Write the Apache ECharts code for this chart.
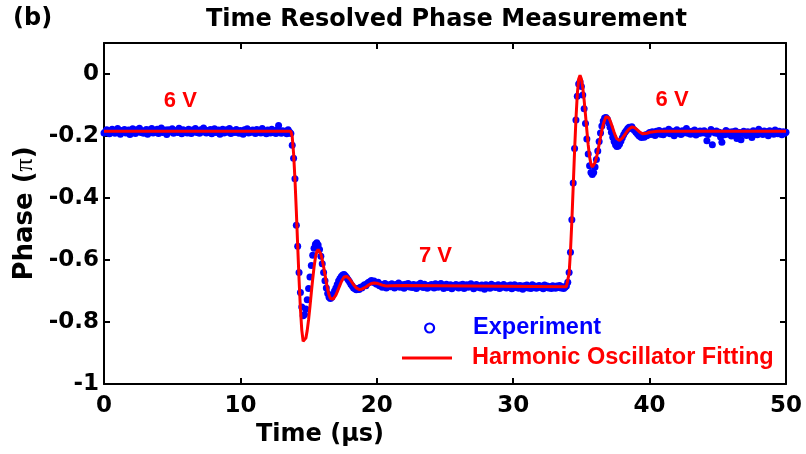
<!DOCTYPE html>
<html><head><meta charset="utf-8">
<script src="https://cdn.jsdelivr.net/npm/echarts@6/dist/echarts.min.js"></script>
<style>html,body{margin:0;padding:0;background:#fff}#c{width:806px;height:454px}</style>
</head><body><div id="c"></div>
<script>
// ---- data ----
const expTimeStep = 0.1; // sampling interval of the measurement (μs), first sample at t = 0
const expPhase = [
-0.190,-0.186,-0.180,-0.188,-0.193,-0.184,-0.178,-0.187,-0.191,-0.183,
-0.176,-0.189,-0.194,-0.182,-0.185,-0.179,-0.190,-0.187,-0.181,-0.195,
-0.184,-0.177,-0.188,-0.192,-0.180,-0.186,-0.175,-0.189,-0.183,-0.191,
-0.185,-0.179,-0.194,-0.181,-0.187,-0.176,-0.190,-0.184,-0.188,-0.178,
-0.192,-0.183,-0.174,-0.189,-0.186,-0.181,-0.195,-0.180,-0.187,-0.184,
-0.177,-0.191,-0.185,-0.182,-0.189,-0.175,-0.188,-0.193,-0.180,-0.186,
-0.183,-0.190,-0.178,-0.187,-0.192,-0.181,-0.186,-0.176,-0.189,-0.184,
-0.191,-0.180,-0.187,-0.174,-0.185,-0.190,-0.182,-0.188,-0.179,-0.193,
-0.184,-0.177,-0.189,-0.186,-0.181,-0.194,-0.183,-0.178,-0.190,-0.185,
-0.180,-0.188,-0.176,-0.192,-0.185,-0.183,-0.189,-0.179,-0.186,-0.191,
-0.182,-0.187,-0.194,-0.180,-0.185,-0.177,-0.190,-0.184,-0.188,-0.181,
-0.186,-0.192,-0.179,-0.187,-0.183,-0.190,-0.176,-0.188,-0.185,-0.193,
-0.181,-0.186,-0.190,-0.178,-0.189,-0.184,-0.192,-0.180,-0.166,-0.187,
-0.191,-0.183,-0.188,-0.185,-0.193,-0.180,-0.187,-0.192,-0.230,-0.272,
-0.338,-0.488,-0.556,-0.640,-0.705,-0.752,-0.780,-0.776,-0.758,-0.728,
-0.692,-0.655,-0.618,-0.585,-0.562,-0.549,-0.544,-0.552,-0.566,-0.588,
-0.612,-0.640,-0.667,-0.690,-0.708,-0.720,-0.724,-0.720,-0.712,-0.700,
-0.690,-0.679,-0.668,-0.660,-0.653,-0.648,-0.647,-0.652,-0.657,-0.664,
-0.670,-0.678,-0.684,-0.690,-0.693,-0.696,-0.692,-0.695,-0.688,-0.690,
-0.684,-0.680,-0.683,-0.676,-0.672,-0.670,-0.666,-0.672,-0.668,-0.675,
-0.678,-0.672,-0.683,-0.679,-0.688,-0.681,-0.676,-0.690,-0.684,-0.680,
-0.686,-0.677,-0.682,-0.690,-0.679,-0.685,-0.674,-0.688,-0.683,-0.680,
-0.691,-0.678,-0.684,-0.676,-0.687,-0.681,-0.689,-0.679,-0.685,-0.692,
-0.680,-0.686,-0.675,-0.683,-0.689,-0.678,-0.684,-0.691,-0.682,-0.687,
-0.679,-0.685,-0.690,-0.677,-0.683,-0.688,-0.681,-0.676,-0.686,-0.692,
-0.683,-0.678,-0.689,-0.685,-0.680,-0.693,-0.682,-0.687,-0.679,-0.684,
-0.690,-0.681,-0.686,-0.678,-0.692,-0.684,-0.680,-0.688,-0.683,-0.677,
-0.687,-0.693,-0.682,-0.679,-0.688,-0.684,-0.690,-0.681,-0.686,-0.694,
-0.680,-0.687,-0.683,-0.691,-0.678,-0.686,-0.682,-0.689,-0.685,-0.680,
-0.692,-0.684,-0.688,-0.679,-0.686,-0.690,-0.683,-0.687,-0.681,-0.693,
-0.685,-0.680,-0.689,-0.684,-0.691,-0.682,-0.687,-0.694,-0.683,-0.688,
-0.681,-0.690,-0.686,-0.692,-0.680,-0.688,-0.684,-0.691,-0.687,-0.682,
-0.689,-0.685,-0.693,-0.681,-0.688,-0.684,-0.690,-0.686,-0.692,-0.683,
-0.687,-0.691,-0.684,-0.689,-0.682,-0.690,-0.686,-0.692,-0.688,-0.684,
-0.672,-0.640,-0.575,-0.470,-0.352,-0.240,-0.148,-0.072,-0.032,-0.025,
-0.040,-0.068,-0.112,-0.160,-0.210,-0.258,-0.296,-0.318,-0.324,-0.318,
-0.300,-0.276,-0.248,-0.218,-0.190,-0.168,-0.152,-0.142,-0.140,-0.146,
-0.158,-0.172,-0.188,-0.204,-0.218,-0.228,-0.234,-0.232,-0.226,-0.216,
-0.206,-0.196,-0.188,-0.182,-0.176,-0.172,-0.175,-0.170,-0.178,-0.182,
-0.188,-0.193,-0.198,-0.202,-0.205,-0.200,-0.204,-0.196,-0.199,-0.193,
-0.189,-0.195,-0.186,-0.192,-0.198,-0.185,-0.190,-0.182,-0.194,-0.188,
-0.196,-0.184,-0.190,-0.187,-0.178,-0.193,-0.189,-0.185,-0.199,-0.186,
-0.180,-0.192,-0.188,-0.195,-0.183,-0.190,-0.186,-0.176,-0.191,-0.187,
-0.194,-0.185,-0.189,-0.181,-0.197,-0.188,-0.192,-0.184,-0.190,-0.186,
-0.183,-0.191,-0.215,-0.195,-0.188,-0.179,-0.228,-0.186,-0.190,-0.184,
-0.192,-0.188,-0.203,-0.220,-0.190,-0.196,-0.182,-0.189,-0.194,-0.187,
-0.200,-0.186,-0.191,-0.184,-0.208,-0.195,-0.189,-0.212,-0.192,-0.185,
-0.190,-0.198,-0.186,-0.193,-0.188,-0.205,-0.183,-0.194,-0.189,-0.196,
-0.178,-0.191,-0.187,-0.195,-0.184,-0.190,-0.186,-0.199,-0.183,-0.192,
-0.188,-0.194,-0.181,-0.189,-0.193,-0.185,-0.190,-0.196,-0.186,-0.191,
-0.188
];

const fitTime = [
0,
13.7,13.8,13.9,14.0,14.1,14.2,14.3,14.4,14.5,14.6,
14.7,14.8,14.9,15.0,15.1,15.2,15.3,15.4,15.5,15.6,
15.7,15.8,15.9,16.0,16.1,16.2,16.3,16.4,16.5,16.6,
16.7,16.8,16.9,17.0,17.1,17.2,17.3,17.4,17.5,17.6,
17.7,17.8,17.9,18.0,18.1,18.2,18.3,18.4,18.5,18.6,
18.7,18.8,18.9,19.0,
19.2,19.4,19.6,19.8,20.0,20.2,20.4,20.6,20.8,21.0,
22.0,33.9,
34.0,34.1,34.2,34.3,34.4,34.5,34.6,34.7,34.8,34.9,
35.0,35.1,35.2,35.3,35.4,35.5,35.6,35.7,35.8,35.9,
36.0,36.1,36.2,36.3,36.4,36.5,36.6,36.7,36.8,36.9,
37.0,37.1,37.2,37.3,37.4,37.5,37.6,37.7,37.8,37.9,
38.0,38.1,38.2,38.3,38.4,38.5,38.6,38.7,38.8,38.9,
39.0,39.1,39.2,39.3,39.4,39.5,39.6,
39.8,40.0,40.3,40.6,41.0,50
];
const fitPhase = [
-0.185,
-0.185,-0.203,-0.257,-0.340,-0.442,-0.554,-0.663,-0.757,-0.826,-0.862,
-0.865,-0.852,-0.827,-0.792,-0.750,-0.705,-0.662,-0.623,-0.592,-0.573,
-0.566,-0.570,-0.581,-0.599,-0.622,-0.647,-0.672,-0.695,-0.713,-0.724,
-0.728,-0.726,-0.721,-0.713,-0.703,-0.692,-0.681,-0.670,-0.662,-0.655,
-0.652,-0.653,-0.656,-0.661,-0.667,-0.673,-0.680,-0.686,-0.690,-0.694,
-0.695,-0.695,-0.694,-0.692,
-0.687,-0.681,-0.676,-0.674,-0.675,-0.678,-0.681,-0.683,-0.684,-0.683,
-0.682,-0.686,
-0.681,-0.643,-0.571,-0.475,-0.362,-0.248,-0.146,-0.065,-0.016,-0.004,
-0.016,-0.044,-0.084,-0.132,-0.182,-0.229,-0.267,-0.291,-0.300,-0.296,
-0.286,-0.270,-0.250,-0.227,-0.204,-0.182,-0.163,-0.149,-0.138,-0.136,
-0.141,-0.150,-0.162,-0.175,-0.188,-0.200,-0.209,-0.214,-0.214,-0.212,
-0.207,-0.201,-0.195,-0.188,-0.182,-0.177,-0.173,-0.171,-0.171,-0.173,
-0.176,-0.180,-0.184,-0.188,-0.191,-0.193,-0.193,
-0.191,-0.188,-0.186,-0.185,-0.185,-0.185
];

const annotTime  = [5.6, 24.3, 41.65];
const annotPhase = [-0.087, -0.587, -0.084];
const annotText  = ['6 V', '7 V', '6 V'];

const seriesNames = ['Experiment', 'Harmonic Oscillator Fitting'];
const titleText = 'Time Resolved Phase Measurement';
const panelText = '(b)';

// ---- chart ----
const expData = expPhase.map((v, i) => [+(i * expTimeStep).toFixed(1), v]);
const fitData = fitTime.map((t, i) => [t, fitPhase[i]]);
const annotData = annotTime.map((t, i) => [t, annotPhase[i]]);

const F = 'DejaVu Sans';
const L = 'Liberation Sans';
const axisLine = {show: true, onZero: false, lineStyle: {color: '#000', width: 2}};
const axisTick = {show: true, inside: true, length: 6, lineStyle: {color: '#000', width: 2}};

const chart = echarts.init(document.getElementById('c'), null, {renderer: 'canvas'});
chart.setOption({
  animation: false,
  backgroundColor: '#fff',
  title: [
    {text: titleText, left: 206, top: 8, padding: 0,
     textStyle: {fontFamily: F, fontWeight: 'bold', fontSize: 24, color: '#000'}},
    {text: panelText, left: 13, top: 7, padding: 0,
     textStyle: {fontFamily: F, fontWeight: 'bold', fontSize: 24, color: '#000'}}
  ],
  grid: {left: 104, right: 20, top: 43, bottom: 70, containLabel: false, outerBoundsMode: 'none'},
  legend: [
    {data: [{name: seriesNames[0], icon: 'circle',
             itemStyle: {color: '#fff', borderColor: '#0000ff', borderWidth: 2.2},
             textStyle: {color: '#0000ff'}}],
     left: 424, top: 316, padding: 0, itemWidth: 9, itemHeight: 9, selectedMode: false,
     textStyle: {fontFamily: L, fontWeight: 'bold', fontSize: 23.5, padding: [0, 0, 0, 34]}},
    {data: [{name: seriesNames[1], icon: 'rect',
             itemStyle: {color: '#ff0000'}, textStyle: {color: '#ff0000'}}],
     left: 402, top: 346, padding: 0, itemWidth: 50, itemHeight: 3, selectedMode: false,
     textStyle: {fontFamily: L, fontWeight: 'bold', fontSize: 23.5, padding: [0, 0, 0, 15]}}
  ],
  xAxis: [
    {type: 'value', min: 0, max: 50, interval: 10, position: 'bottom',
     axisLine, axisTick, splitLine: {show: false},
     axisLabel: {fontFamily: F, fontWeight: 'bold', fontSize: 23, color: '#000', margin: 11},
     name: 'Time (μs)', nameLocation: 'middle', nameGap: 39,
     nameTextStyle: {fontFamily: F, fontWeight: 'bold', fontSize: 24, color: '#000', padding: [0, 250, 0, 0]}},
    {type: 'value', min: 0, max: 50, interval: 10, position: 'top',
     axisLine, axisTick, splitLine: {show: false}, axisLabel: {show: false}}
  ],
  yAxis: [
    {type: 'value', min: -1, max: 0.1, interval: 0.2, position: 'left',
     axisLine, axisTick, splitLine: {show: false},
     axisLabel: {fontFamily: F, fontWeight: 'bold', fontSize: 23, color: '#000', margin: 5,
       formatter: v => (Math.abs(v - 0.1) < 1e-9 ? '' : String(+v.toFixed(1)))},
     name: '{a|Phase (}{p|π}{a|)}', nameLocation: 'middle', nameGap: 64,
     nameTextStyle: {rich: {
       a: {fontFamily: F, fontWeight: 'bold', fontSize: 26, color: '#000'},
       p: {fontFamily: 'Liberation Serif', fontWeight: 'normal', fontSize: 26, color: '#000'}}}},
    {type: 'value', min: -1, max: 0.1, interval: 0.2, position: 'right',
     axisLine, axisTick, splitLine: {show: false}, axisLabel: {show: false}}
  ],
  series: [
    {name: seriesNames[0], type: 'scatter', data: expData, symbol: 'circle', symbolSize: 7,
     itemStyle: {color: '#0000ff', opacity: 1}, z: 2, silent: true},
    {name: seriesNames[1], type: 'line', data: fitData, showSymbol: false, symbol: 'none',
     lineStyle: {color: '#ff0000', width: 3}, itemStyle: {color: '#ff0000'}, z: 3, silent: true},
    {name: 'labels', type: 'scatter', data: annotData, symbolSize: 0, z: 4, silent: true,
     itemStyle: {color: '#ff0000'},
     label: {show: true, position: 'inside', color: '#ff0000', fontFamily: L, fontWeight: 'bold', fontSize: 22,
       textBorderWidth: 0, textBorderColor: 'transparent', opacity: 1,
       formatter: p => annotText[p.dataIndex]}}
  ]
});
</script></body></html>
